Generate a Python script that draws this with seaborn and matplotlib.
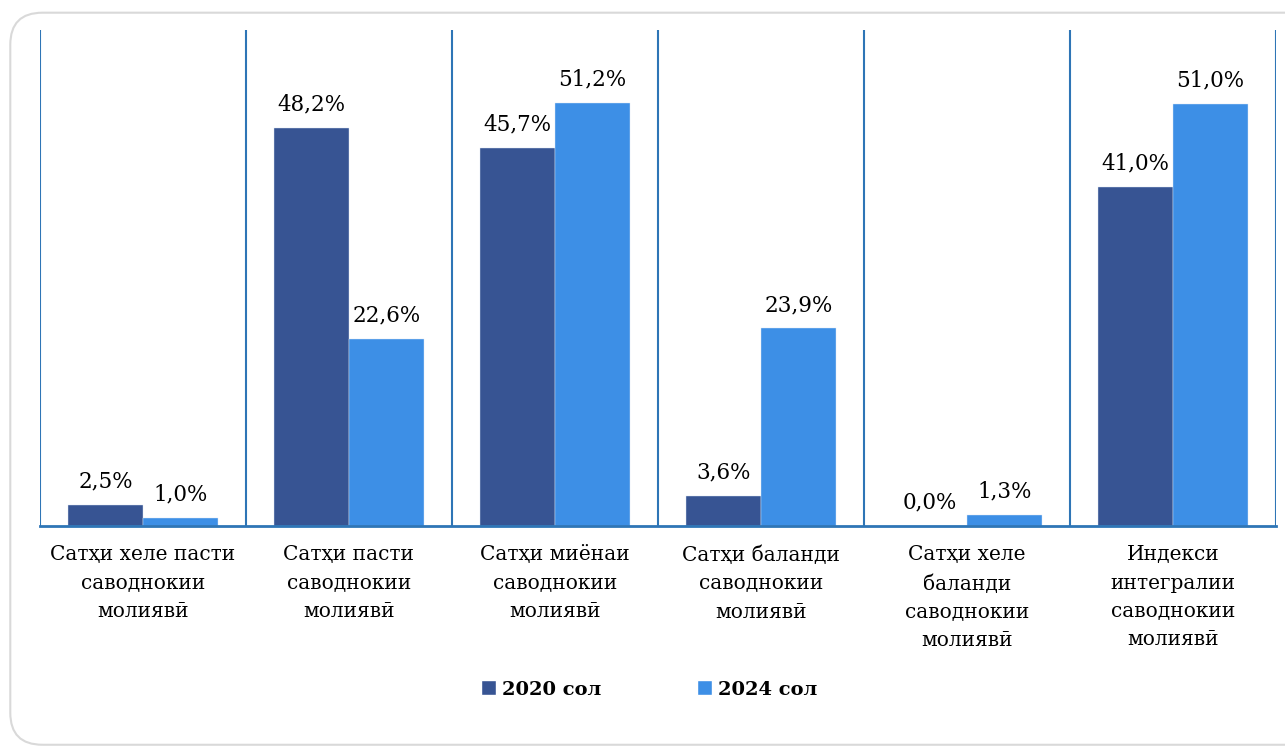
import numpy as np
import pandas as pd
import seaborn as sns
import matplotlib.pyplot as plt
from matplotlib.patches import FancyBboxPatch, Patch

categories = [
    "Сатҳи хеле пасти\nсаводнокии\nмолиявӣ",
    "Сатҳи пасти\nсаводнокии\nмолиявӣ",
    "Сатҳи миёнаи\nсаводнокии\nмолиявӣ",
    "Сатҳи баланди\nсаводнокии\nмолиявӣ",
    "Сатҳи хеле\nбаланди\nсаводнокии\nмолиявӣ",
    "Индекси\nинтегралии\nсаводнокии\nмолиявӣ",
]
years = ["2020 сол", "2024 сол"]
values_2020 = [2.5, 48.2, 45.7, 3.6, 0.0, 41.0]
values_2024 = [1.0, 22.6, 51.2, 23.9, 1.3, 51.0]
colors = ["#375493", "#3D8FE6"]

df = pd.DataFrame({
    "cat": categories * 2,
    "year": [years[0]] * 6 + [years[1]] * 6,
    "val": values_2020 + values_2024,
})

sns.set_style("white")
plt.rcParams["font.family"] = ["DejaVu Serif", "DejaVu Sans"]
plt.rcParams["text.color"] = "black"
plt.rcParams["xtick.color"] = "black"

fig = plt.figure(figsize=(12.85, 7.47), dpi=100)
ax = fig.add_axes([0.0311, 0.2958, 0.9619, 0.664])

# rounded chart border
fig.patches.append(FancyBboxPatch((0.008, 0.003), 1.05, 0.98, boxstyle="round,pad=0,rounding_size=0.025",
                                  transform=fig.transFigure, fill=False, edgecolor="#D9D9D9", linewidth=1.5,
                                  mutation_aspect=1285 / 747))

sns.barplot(data=df, x="cat", y="val", hue="year", palette=colors, width=0.728,
            saturation=1, ax=ax, legend=False)
for p in ax.patches:
    p.set_edgecolor("#D9E6F5")
    p.set_linewidth(0.3)

for cont in ax.containers:
    ax.bar_label(cont, labels=[f"{v:.1f}%".replace(".", ",") for v in cont.datavalues],
                 padding=9, fontsize=15.5, color="black")

ax.set_ylim(0, 60)
ax.set_xlim(-0.5, 5.5)
ax.set_yticks([])
ax.set_xlabel("")
ax.set_ylabel("")
ax.set_xticks(range(6))
ax.set_xticklabels(categories, fontsize=14.5, linespacing=1.62, color="black")
ax.tick_params(axis="x", which="major", length=0, pad=14)
ax.set_xticks(np.arange(-0.5, 6, 1), minor=True)
ax.tick_params(axis="x", which="minor", length=7, width=1.5, color="#2E75B6", direction="out")
ax.grid(True, which="minor", axis="x", color="#2E75B6", linewidth=1.5)
for s in ["top", "right", "left"]:
    ax.spines[s].set_visible(False)
ax.spines["bottom"].set_color("#2E75B6")
ax.spines["bottom"].set_linewidth(2)

handles = [Patch(facecolor=c, label=y) for c, y in zip(colors, years)]
fig.legend(handles=handles, loc="center", bbox_to_anchor=(0.505, 0.077), ncol=2, frameon=False,
           prop={"weight": "bold", "size": 14}, handlelength=0.8, handleheight=0.8,
           handletextpad=0.3, columnspacing=4.9, labelcolor="black")

fig.savefig("out.png", dpi=100)
